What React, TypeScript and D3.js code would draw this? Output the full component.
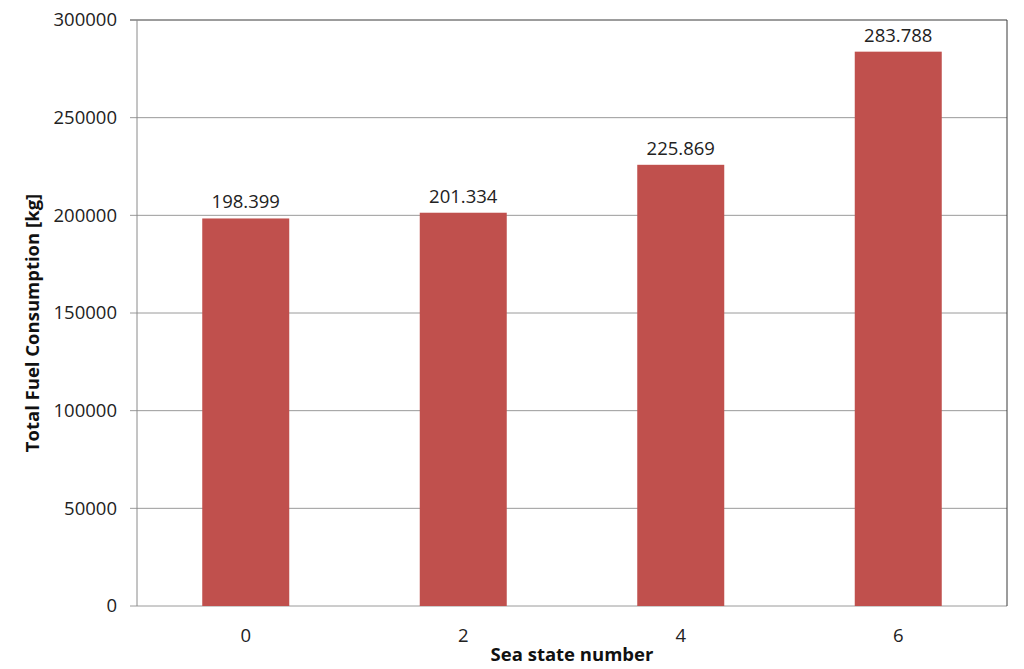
import React from "react";
import * as d3 from "d3";

const categories = ["0", "2", "4", "6"];
const values = [198399, 201334, 225869, 283788];
const valueLabels = ["198.399", "201.334", "225.869", "283.788"];
const yTicks = [0, 50000, 100000, 150000, 200000, 250000, 300000];

const W = 1024;
const H = 669;
const left = 137;
const right = 1007;
const top = 20;
const bottom = 606;
const font = "'Open Sans', 'Liberation Sans', sans-serif";

export default function App() {
  const x = d3.scaleBand<string>().domain(categories).range([left, right]).paddingInner(0.6).paddingOuter(0.3);
  const y = d3.scaleLinear().domain([0, 300000]).range([bottom, top]);
  return (
    <svg width={W} height={H} style={{ position: "absolute", left: 0, top: 0, background: "#fff" }}>
      {yTicks.map((t) => (
        <g key={t}>
          <line x1={left - 7} x2={right} y1={y(t)} y2={y(t)} stroke={t === 300000 ? "#3a3a3a" : "#9a9a9a"} strokeWidth={1} />
          <text x={117} y={y(t)} dy="0.35em" textAnchor="end" fontFamily={font} fontSize={18.5} fill="#222">
            {t}
          </text>
        </g>
      ))}
      <line x1={left} x2={left} y1={top} y2={bottom} stroke="#8a8a8a" />
      <line x1={right} x2={right} y1={top} y2={bottom} stroke="#3a3a3a" />
      {categories.map((c, i) => (
        <g key={c}>
          <rect x={x(c)!} y={y(values[i])} width={x.bandwidth()} height={bottom - y(values[i])} fill="#C0504D" />
          <text x={x(c)! + x.bandwidth() / 2} y={y(values[i]) - 10} textAnchor="middle" fontFamily={font} fontSize={18.5} fill="#222">
            {valueLabels[i]}
          </text>
          <text x={x(c)! + x.bandwidth() / 2} y={636} dy="0.35em" textAnchor="middle" fontFamily={font} fontSize={18.5} fill="#222">
            {c}
          </text>
        </g>
      ))}
      <text x={(left + right) / 2} y={655} dy="0.35em" textAnchor="middle" fontFamily={font} fontSize={18.5} fontWeight="bold" fill="#111">
        Sea state number
      </text>
      <text transform={`translate(33, ${(top + bottom) / 2 + 10}) rotate(-90)`} dy="0.35em" textAnchor="middle" fontFamily={font} fontSize={18.5} fontWeight="bold" fill="#111">
        Total Fuel Consumption [kg]
      </text>
    </svg>
  );
}
